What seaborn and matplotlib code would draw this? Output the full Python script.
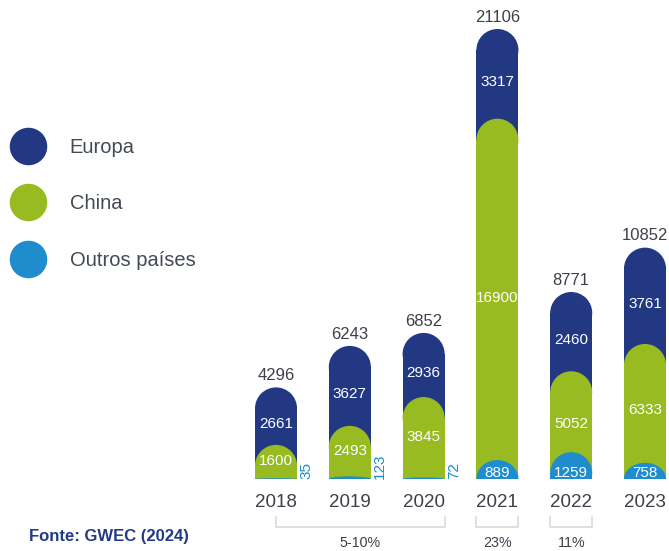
import matplotlib
matplotlib.use("Agg")
import matplotlib.pyplot as plt
from matplotlib.patches import Ellipse
from matplotlib.lines import Line2D
import numpy as np
import pandas as pd
import seaborn as sns

# DATA

years = ["2018", "2019", "2020", "2021", "2022", "2023"]
total = [4296, 6243, 6852, 21106, 8771, 10852]
europa = [2661, 3627, 2936, 3317, 2460, 3761]
china = [1600, 2493, 3845, 16900, 5052, 6333]
outros = [35, 123, 72, 889, 1259, 758]
shares = ["5-10%", "23%", "11%"]
share_groups = [(0, 2), (3, 3), (4, 4)]

series_names = ["Europa", "China", "Outros países"]
colors = ["#233882", "#97bb21", "#1e8ccd"]

# SET-UP

sns.set_theme(style="white")
plt.rcParams["font.family"] = ["Liberation Sans", "DejaVu Sans"]

W, H = 669, 551
fig = plt.figure(figsize=(W / 100, H / 100), dpi=100)
ax = fig.add_axes([0, 72 / H, 1, 479 / H])

bar_w = 0.57
xmin, xmax = -3.74, 5.325
ymax = 22467

df = pd.DataFrame({"year": years, "total": total, "china": china, "outros": outros})

# pill shaped bars: rectangle + elliptic cap, tallest drawn first
px_x = W / (xmax - xmin)
px_y = 479 / ymax
r = (bar_w / 2) * px_x / px_y

for col, c in zip(["total", "china", "outros"], colors):
    vals = df[col].to_numpy()
    ry = np.minimum(r, vals)
    df[col + "_rect"] = vals - ry
    sns.barplot(data=df, x="year", y=col + "_rect", color=c, width=bar_w,
                saturation=1, linewidth=0, edgecolor=c, ax=ax, order=years)
    for i, (v, h) in enumerate(zip(vals, ry)):
        ax.add_patch(Ellipse((i, v - h), bar_w, 2 * h, facecolor=c, lw=0))

ax.set_xlim(xmin, xmax)
ax.set_ylim(0, ymax)
ax.set_xlabel("")
ax.set_ylabel("")
ax.set_yticks([])
ax.tick_params(axis="x", length=0, pad=11, labelsize=13.5, labelcolor="#3d4049")
sns.despine(ax=ax, left=True, bottom=True)

# LABELS

for i in range(len(years)):
    ax.annotate(f"{total[i]}", (i, total[i]), xytext=(0, 3), textcoords="offset points",
                ha="center", va="bottom", fontsize=12, color="#3d4049")
    ax.text(i, (china[i] + total[i]) / 2 - 375, f"{europa[i]}", ha="center", va="center",
            fontsize=11, color="white")
    ax.text(i, china[i] / 2 + 60, f"{china[i]}", ha="center", va="center",
            fontsize=11, color="white")
    if outros[i] < 300:
        ax.text(i + bar_w / 2 + 0.03, 0, f"{outros[i]}", rotation=90, ha="left",
                va="bottom", fontsize=11, color=colors[2])
    else:
        ax.text(i, 300, f"{outros[i]}", ha="center", va="center",
                fontsize=11, color="white")

# brackets under the years
y_top = -38 / px_y
y_bot = -48 / px_y
y_txt = -64 / px_y
for (a, b), s in zip(share_groups, shares):
    x0 = a if a != b else a - bar_w / 2
    x1 = b + bar_w / 2
    ax.plot([x0, x0, x1, x1], [y_top, y_bot, y_bot, y_top], color="#d9d9d9",
            lw=1.2, clip_on=False)
    ax.text((x0 + x1) / 2, y_txt, s, ha="center", va="center", fontsize=10.3,
            color="#3d4049")

# legend
handles = [Line2D([], [], marker="o", ls="", markersize=26, color=c, mec=c)
           for c in colors]
fig.legend(handles, series_names, loc="upper left", bbox_to_anchor=(5 / W, 1 - 130 / H),
           frameon=False, fontsize=14.5, labelcolor="#444a55", labelspacing=1.85,
           handlelength=1.5, handletextpad=1.32, borderaxespad=0)

fig.text(29 / W, 1 - 537 / H, "Fonte: GWEC (2024)", ha="left", va="center",
         fontsize=12, fontweight="bold", color="#233a85")

fig.savefig("out.png", dpi=100)
